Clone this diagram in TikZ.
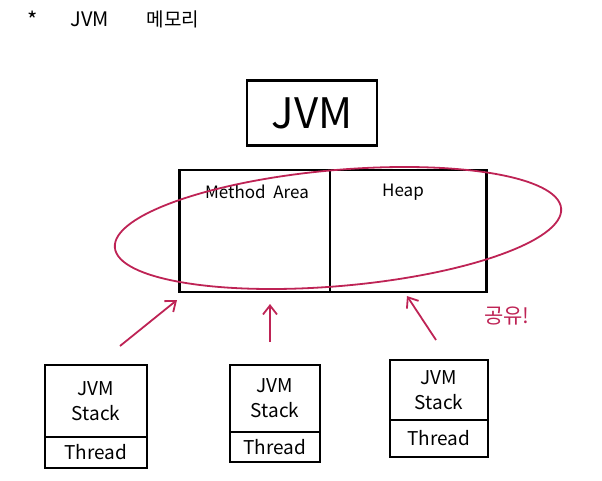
\documentclass[tikz,border=0pt]{standalone}
\usepackage{fontspec}
\setmainfont{Noto Sans CJK KR}
\usetikzlibrary{arrows.meta}
\definecolor{pen}{RGB}{190,35,85}
\begin{document}
\begin{tikzpicture}[x=1pt,y=-1pt,
  box/.style={draw=black,line width=2.4pt,inner sep=0pt,outer sep=0pt},
  lbl/.style={font=\fontsize{17}{18}\selectfont},
  stk/.style={font=\fontsize{19}{25}\selectfont,align=center},
  thr/.style={font=\fontsize{19}{20}\selectfont},
  red/.style={draw=pen,line width=1.8pt},
  redarrow/.style={red,-{Straight Barb[length=9pt,width=14pt]}}]
\useasboundingbox (0,0) rectangle (602,480);
% title
\node[font=\fontsize{22}{24}\selectfont] (star) at (33,20) {*};
\node[font=\fontsize{20}{22}\selectfont] (tjvm) at (90,19) {JVM};
\node[font=\fontsize{19}{22}\selectfont] (tmem) at (173,19) {메모리};
% JVM box
\node[box,minimum width=130pt,minimum height=65pt,font=\fontsize{42}{44}\selectfont] (jvm) at (312,113) {JVM};
% memory area
\node[box,minimum width=307pt,minimum height=122pt] (mem) at (333,231) {};
\coordinate (divtop) at (330,170);
\coordinate (divbot) at (330,292);
\draw[line width=2.4pt] (divtop) -- (divbot);
\node[lbl] (ma) at (257,192) {Method\ \ Area};
\node[lbl] (heap) at (403,192) {Heap};
% ellipse
\coordinate (ellc) at (338,228);
\draw[red,rotate around={5:(ellc)}] (ellc) ellipse [x radius=224pt,y radius=58pt];
\node[font=\fontsize{21}{22}\selectfont,text=pen] (share) at (507,316) {공유!};
% stacks
\node[box,minimum width=102pt,minimum height=72pt,stk] (s1) at (96,401) {JVM\\Stack};
\node[box,minimum width=102pt,minimum height=31pt,thr,anchor=north] (t1) at (s1.south) {Thread};
\node[box,minimum width=90pt,minimum height=67pt,stk] (s2) at (275,398.5) {JVM\\Stack};
\node[box,minimum width=90pt,minimum height=30pt,thr,anchor=north] (t2) at (s2.south) {Thread};
\node[box,minimum width=98pt,minimum height=60pt,stk] (s3) at (439,390) {JVM\\Stack};
\node[box,minimum width=98pt,minimum height=37pt,thr,anchor=north] (t3) at (s3.south) {Thread};
% arrows
\coordinate (a1s) at (120,346);
\coordinate (a1e) at (177,300);
\coordinate (a2s) at (270,342);
\coordinate (a2e) at (270,304);
\coordinate (a3s) at (436,340);
\coordinate (a3e) at (407,296);
\draw[redarrow] (a1s) -- (a1e);
\draw[redarrow] (a2s) -- (a2e);
\draw[redarrow] (a3s) -- (a3e);
\end{tikzpicture}
\end{document}
